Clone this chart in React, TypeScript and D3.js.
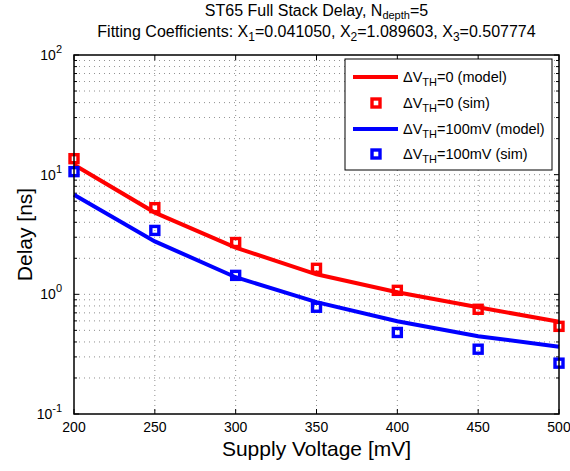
import React from "react";
import * as d3 from "d3";

const voltages = [200, 250, 300, 350, 400, 450, 500];
const redModel = [12.1, 4.82, 2.46, 1.47, 1.04, 0.78, 0.59];
const redSim = [13.6, 5.3, 2.71, 1.65, 1.08, 0.75, 0.54];
const blueModel = [6.8, 2.77, 1.39, 0.86, 0.596, 0.447, 0.365];
const blueSim = [10.6, 3.42, 1.44, 0.78, 0.48, 0.348, 0.266];
const xTicks = [200, 250, 300, 350, 400, 450, 500];
const yDecades = [-1, 0, 1, 2];

const W = 570, H = 471;
const L = 74, R = 559, T = 55, B = 414;
const FONT = "'Liberation Sans', Arial, Helvetica, sans-serif";

export default function App() {
  const x = d3.scaleLinear().domain([200, 500]).range([L, R]);
  const y = d3.scaleLog().domain([0.1, 100]).range([B, T]);
  const line = d3.line<number>().x((_, i) => x(voltages[i])).y((d) => y(d));

  const minor: number[] = [];
  for (let e = -1; e < 2; e++) for (let k = 2; k <= 9; k++) minor.push(k * Math.pow(10, e));
  const major = yDecades.map((e) => Math.pow(10, e));

  const grid = { stroke: "#444", strokeWidth: 0.8, strokeDasharray: "1 4", opacity: 0.75 };

  const sq = (cx: number, cy: number, color: string, key: string) => (
    <rect key={key} x={cx - 4} y={cy - 4} width={8} height={8} fill="none" stroke={color} strokeWidth={3.4} />
  );

  const legendRows = [
    { y: 77, type: "line", color: "#ff0000", label: "=0 (model)" },
    { y: 103, type: "sq", color: "#ff0000", label: "=0 (sim)" },
    { y: 129, type: "line", color: "#0000ff", label: "=100mV (model)" },
    { y: 154, type: "sq", color: "#0000ff", label: "=100mV (sim)" },
  ];

  return (
    <svg width={W} height={H} style={{ position: "absolute", left: 0, top: 0, background: "#fff" }} fontFamily={FONT}>
      <rect x={0} y={0} width={W} height={H} fill="#fff" />
      {/* grid */}
      <g>
        {xTicks.slice(1, -1).map((t) => (
          <line key={"gx" + t} x1={x(t)} x2={x(t)} y1={T} y2={B} {...grid} />
        ))}
        {[...minor, ...major.slice(1, -1)].map((v, i) => (
          <line key={"gy" + i} x1={L} x2={R} y1={y(v)} y2={y(v)} {...grid} />
        ))}
      </g>
      {/* ticks */}
      <g stroke="#000" strokeWidth={1}>
        {xTicks.map((t) => (
          <g key={"tx" + t}>
            <line x1={x(t)} x2={x(t)} y1={B} y2={B - 5} />
            <line x1={x(t)} x2={x(t)} y1={T} y2={T + 5} />
          </g>
        ))}
        {major.map((v, i) => (
          <g key={"ty" + i}>
            <line x1={L} x2={L + 5} y1={y(v)} y2={y(v)} />
            <line x1={R} x2={R - 5} y1={y(v)} y2={y(v)} />
          </g>
        ))}
        {minor.map((v, i) => (
          <g key={"tm" + i}>
            <line x1={L} x2={L + 3} y1={y(v)} y2={y(v)} />
            <line x1={R} x2={R - 3} y1={y(v)} y2={y(v)} />
          </g>
        ))}
      </g>
      {/* data */}
      <path d={line(redModel) || ""} fill="none" stroke="#ff0000" strokeWidth={4} />
      <path d={line(blueModel) || ""} fill="none" stroke="#0000ff" strokeWidth={4} />
      {redSim.map((v, i) => sq(x(voltages[i]), y(v), "#ff0000", "rs" + i))}
      {blueSim.map((v, i) => sq(x(voltages[i]), y(v), "#0000ff", "bs" + i))}
      {/* axes box */}
      <rect x={L} y={T} width={R - L} height={B - T} fill="none" stroke="#000" strokeWidth={1.5} />
      {/* tick labels */}
      <g fontSize={14} fill="#000">
        {xTicks.map((t) => (
          <text key={"lx" + t} x={x(t)} y={B + 18} textAnchor="middle">{t}</text>
        ))}
        {yDecades.map((e) => (
          <text key={"ly" + e} x={L - 12} y={y(Math.pow(10, e)) + 5} textAnchor="end">
            10
            <tspan dy={-7} fontSize={11}>{e}</tspan>
          </text>
        ))}
      </g>
      {/* labels */}
      <text x={(L + R) / 2} y={456} textAnchor="middle" fontSize={21}>Supply Voltage [mV]</text>
      <text transform={`translate(32,${(T + B) / 2}) rotate(-90)`} textAnchor="middle" fontSize={21}>Delay [ns]</text>
      <text x={(L + R) / 2} y={16} textAnchor="middle" fontSize={16}>
        ST65 Full Stack Delay, N<tspan dy={3} fontSize={11}>depth</tspan><tspan dy={-3}>=5</tspan>
      </text>
      <text x={(L + R) / 2} y={37} textAnchor="middle" fontSize={16}>
        Fitting Coefficients: X<tspan dy={4} fontSize={12}>1</tspan><tspan dy={-4}>=0.041050, X</tspan>
        <tspan dy={4} fontSize={12}>2</tspan><tspan dy={-4}>=1.089603, X</tspan>
        <tspan dy={4} fontSize={12}>3</tspan><tspan dy={-4}>=0.507774</tspan>
      </text>
      {/* legend */}
      <rect x={345} y={59} width={207} height={111} fill="#fff" stroke="#000" strokeWidth={1} />
      {legendRows.map((r, i) => (
        <g key={"lg" + i}>
          {r.type === "line" ? (
            <line x1={353} x2={398} y1={r.y} y2={r.y} stroke={r.color} strokeWidth={4} />
          ) : (
            sq(376, r.y, r.color, "lsq" + i)
          )}
          <text x={403} y={r.y + 5} fontSize={14.5}>
            ΔV<tspan dy={4} fontSize={11}>TH</tspan><tspan dy={-4}>{r.label}</tspan>
          </text>
        </g>
      ))}
    </svg>
  );
}
